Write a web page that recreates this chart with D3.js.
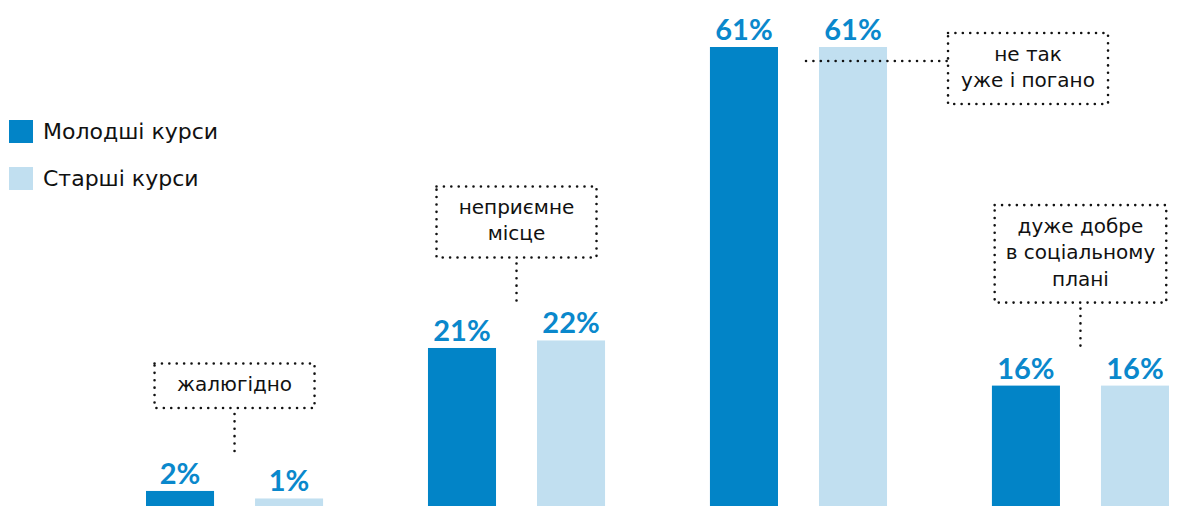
<!DOCTYPE html>
<html><head><meta charset="utf-8">
<script src="https://cdn.jsdelivr.net/npm/d3@7"></script>
<style>
html,body{margin:0;padding:0;background:#fff;}
svg{display:block;font-family:"DejaVu Sans","Noto Sans",sans-serif;}
</style></head>
<body><svg id="c" width="1179" height="506"></svg>
<script>
const categories = ["жалюгідно","неприємне місце","не так уже і погано","дуже добре в соціальному плані"];
const seriesNames = ["Молодші курси","Старші курси"];
const junior = [2, 21, 61, 16];
const senior = [1, 22, 61, 16];
const annotations = [
  {group:0, lines:["жалюгідно"], side:"top"},
  {group:1, lines:["неприємне","місце"], side:"top"},
  {group:2, lines:["не так","уже і погано"], side:"right"},
  {group:3, lines:["дуже добре","в соціальному","плані"], side:"top"}
];
const colors = ["#0284c7","#c1dff0"];

const W=1179,H=506;
const svg=d3.select("#c");
const x0=d3.scaleBand().domain(categories).range([146,1169]).paddingInner(0.372).paddingOuter(0);
const x1=d3.scaleBand().domain(seriesNames).range([0,x0.bandwidth()]).paddingInner(0.376).paddingOuter(0);
const y=d3.scaleLinear().domain([0,61]).range([H,47]);

const rows=categories.map((c,i)=>({cat:c,vals:[{s:seriesNames[0],v:junior[i]},{s:seriesNames[1],v:senior[i]}]}));
const g=svg.selectAll("g.grp").data(rows).join("g").attr("class","grp")
  .attr("transform",d=>`translate(${x0(d.cat)},0)`);
g.selectAll("rect").data(d=>d.vals).join("rect")
  .attr("x",d=>x1(d.s)).attr("width",x1.bandwidth())
  .attr("y",d=>y(d.v)).attr("height",d=>H-y(d.v))
  .attr("fill",(d,i)=>colors[i]);
g.selectAll("text.val").data(d=>d.vals).join("text").attr("class","val")
  .attr("x",d=>x1(d.s)+x1.bandwidth()/2).attr("y",d=>y(d.v)-7)
  .attr("text-anchor","middle").attr("font-size",29).attr("font-weight",700)
  .attr("font-family","Lato").attr("fill","#0a88cc").text(d=>d.v+"%");

// legend
const lg=svg.append("g");
seriesNames.forEach((s,i)=>{
  lg.append("rect").attr("x",9).attr("y",120+i*47).attr("width",24).attr("height",23).attr("fill",colors[i]);
  lg.append("text").attr("x",43).attr("y",139+i*47).attr("font-size",22).attr("fill","#111").text(s);
});

// annotations
const dot={stroke:"#111","stroke-width":2.6,"stroke-linecap":"round","stroke-dasharray":"0 7.4",fill:"none"};
function applyDot(sel){Object.entries(dot).forEach(([k,v])=>sel.attr(k,v));return sel;}
const lineH=26.5, fs=20;
annotations.forEach(a=>{
  const cat=categories[a.group];
  const ag=svg.append("g");
  const texts=a.lines.map(l=>ag.append("text").attr("font-size",fs).attr("fill","#111").attr("text-anchor","middle").text(l));
  const tw=d3.max(texts,t=>t.node().getComputedTextLength());
  const bw=Math.max(tw+22,160), bh=a.lines.length*lineH+18;
  let cx,top;
  if(a.side==="top"){
    cx=x0(cat)+x0.bandwidth()/2;
    const maxV=Math.max(junior[a.group],senior[a.group]);
    const bottom=y(maxV)-83;
    top=bottom-bh;
    applyDot(ag.append("line").attr("x1",cx).attr("x2",cx).attr("y1",bottom+6).attr("y2",bottom+44));
  } else {
    const yy=y(Math.max(junior[a.group],senior[a.group]))+14;
    const left=x0(cat)+x0.bandwidth()+61;
    cx=left+bw/2; top=yy-28;
    applyDot(ag.append("line").attr("x1",x0(cat)+x0.bandwidth()-81).attr("x2",left).attr("y1",yy).attr("y2",yy));
  }
  applyDot(ag.append("rect").attr("x",cx-bw/2).attr("y",top).attr("width",bw).attr("height",bh));
  texts.forEach((t,i)=>t.attr("x",cx).attr("y",top+lineH*(i+1)+1));
});
</script></body></html>
